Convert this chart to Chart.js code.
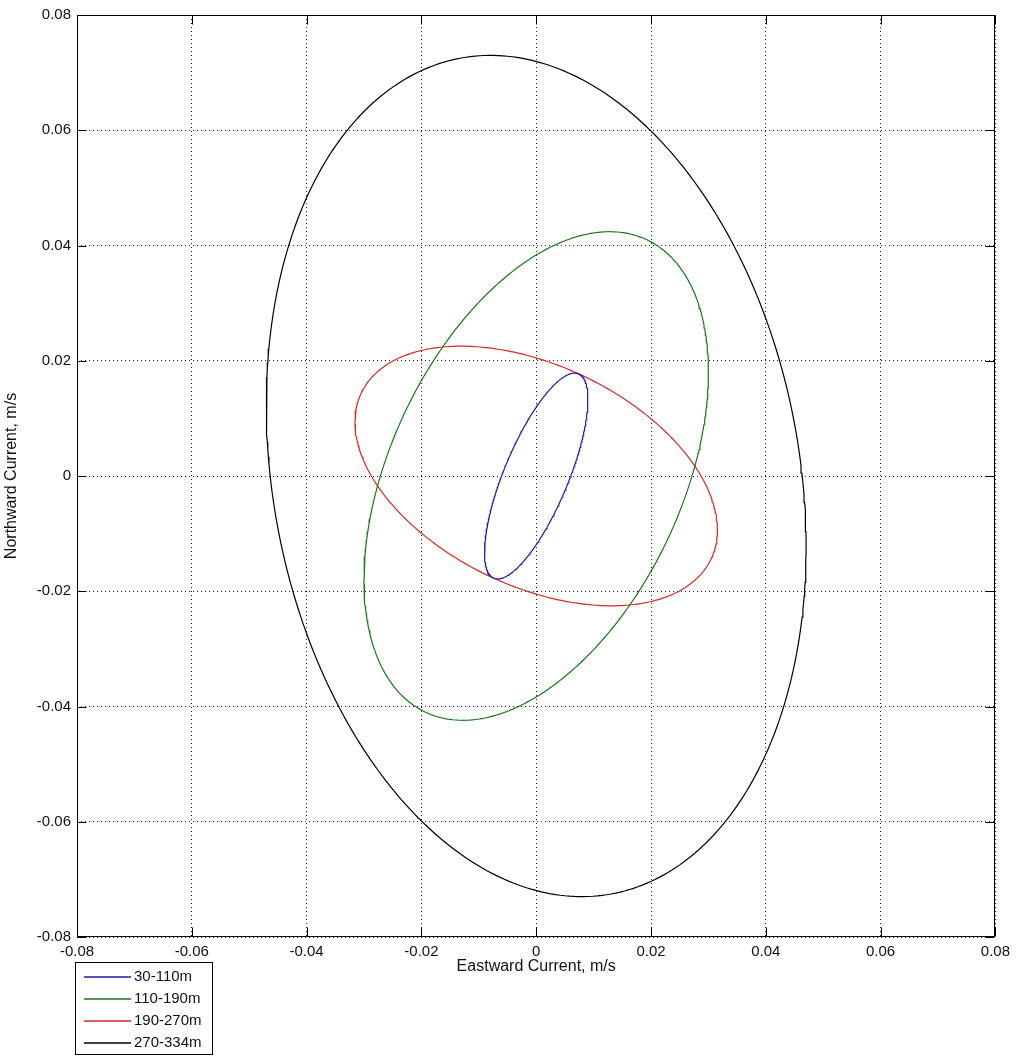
<!DOCTYPE html>
<html>
<head>
<meta charset="utf-8">
<title>Tidal current ellipses</title>
<script src="https://cdn.jsdelivr.net/npm/chart.js@4/dist/chart.umd.min.js"></script>
<style>
  html, body { margin: 0; padding: 0; background: #fff; }
  canvas { display: block; }
</style>
</head>
<body>
<canvas id="chart" width="1016" height="1056"></canvas>
<script>
// Depth bands and their current ellipse parameters (m/s, degrees CCW from east)
const bands       = ['30-110m', '110-190m', '190-270m', '270-334m'];
const semiMajor   = [0.0192, 0.0453, 0.0337, 0.0737];
const semiMinor   = [0.0056, 0.0254, 0.0192, 0.0459];
const inclination = [67.4, 64.8, 154.8, 100.2];
const lineColors  = ['#1c1ca8', '#157a15', '#d42a2a', '#000000'];
const tickValues  = [-0.08, -0.06, -0.04, -0.02, 0, 0.02, 0.04, 0.06, 0.08];

const FONT = '"Liberation Sans", Arial, Helvetica, sans-serif';

// Trace one closed ellipse from its axes and orientation
function ellipsePoints(a, b, incDeg) {
  const th = incDeg * Math.PI / 180;
  const pts = [];
  for (let i = 0; i <= 360; i++) {
    const t = i * Math.PI / 180;
    const u = a * Math.cos(t), v = b * Math.sin(t);
    pts.push({ x: u * Math.cos(th) - v * Math.sin(th), y: u * Math.sin(th) + v * Math.cos(th) });
  }
  return pts;
}

const datasets = bands.map((name, i) => ({
  label: name,
  data: ellipsePoints(semiMajor[i], semiMinor[i], inclination[i]),
  borderColor: lineColors[i],
  backgroundColor: lineColors[i],
  borderWidth: 1.2,
  showLine: true,
  fill: false,
  pointRadius: 0,
  tension: 0
}));

function fmtTick(v) {
  return Math.abs(v) < 1e-9 ? '0' : v.toFixed(2);
}

// Box, inward tick marks and the boxed legend below the axes
const framePlugin = {
  id: 'frame',
  afterDraw(chart) {
    const { ctx, chartArea: a, scales: { x, y } } = chart;
    ctx.save();
    ctx.setLineDash([]);
    ctx.strokeStyle = '#000';
    ctx.lineWidth = 1;
    const L = Math.round(a.left) + 0.5, R = Math.round(a.right) - 0.5;
    const T = Math.round(a.top) + 0.5, B = Math.round(a.bottom) - 0.5;
    ctx.beginPath();
    tickValues.forEach(v => {
      const px = Math.round(x.getPixelForValue(v)) + 0.5;
      ctx.moveTo(px, B); ctx.lineTo(px, B - 9);
      ctx.moveTo(px, T); ctx.lineTo(px, T + 9);
      const py = Math.round(y.getPixelForValue(v)) + 0.5;
      ctx.moveTo(L, py); ctx.lineTo(L + 9, py);
      ctx.moveTo(R, py); ctx.lineTo(R - 9, py);
    });
    ctx.stroke();
    ctx.strokeRect(L, T, R - L, B - T);

    // legend
    const lx = 75.5, ly = 962.5, lw = 137, lh = 92;
    ctx.fillStyle = '#fff';
    ctx.fillRect(lx, ly, lw, lh);
    ctx.lineWidth = 1;
    ctx.strokeStyle = '#000';
    ctx.strokeRect(lx, ly, lw, lh);
    ctx.font = '15px ' + FONT;
    ctx.textAlign = 'left';
    ctx.textBaseline = 'middle';
    bands.forEach((name, i) => {
      const ry = 977 + i * 22;
      ctx.strokeStyle = lineColors[i];
      ctx.lineWidth = 1.5;
      ctx.beginPath();
      ctx.moveTo(84, ry);
      ctx.lineTo(131, ry);
      ctx.stroke();
      ctx.fillStyle = '#111';
      ctx.fillText(name, 134, ry);
    });
    ctx.restore();
  }
};

const axisCommon = {
  type: 'linear',
  min: -0.08,
  max: 0.08,
  afterBuildTicks: scale => { scale.ticks = tickValues.map(v => ({ value: v })); },
  grid: { color: '#222', lineWidth: 1, drawTicks: false },
  border: { display: false, dash: [1, 3] },
  ticks: {
    color: '#111',
    font: { family: FONT, size: 15 },
    callback: v => fmtTick(v),
    autoSkip: false,
    maxRotation: 0
  }
};

new Chart(document.getElementById('chart'), {
  type: 'scatter',
  data: { datasets },
  options: {
    responsive: false,
    animation: false,
    layout: { padding: { left: 0, top: 15, right: 20, bottom: 0 } },
    plugins: { legend: { display: false }, tooltip: { enabled: false } },
    scales: {
      x: {
        ...axisCommon,
        position: 'bottom',
        ticks: { ...axisCommon.ticks, padding: 6 },
        title: {
          display: true,
          text: 'Eastward Current, m/s',
          color: '#111',
          font: { family: FONT, size: 16 },
          padding: { top: 0, bottom: 80 }
        },
        afterFit: s => { s.height = 119; }
      },
      y: {
        ...axisCommon,
        position: 'left',
        ticks: { ...axisCommon.ticks, padding: 6 },
        title: {
          display: true,
          text: 'Northward Current, m/s',
          color: '#111',
          font: { family: FONT, size: 16 },
          padding: { top: 2, bottom: 0 }
        },
        afterFit: s => { s.width = 77; }
      }
    }
  },
  plugins: [framePlugin]
});
</script>
</body>
</html>
